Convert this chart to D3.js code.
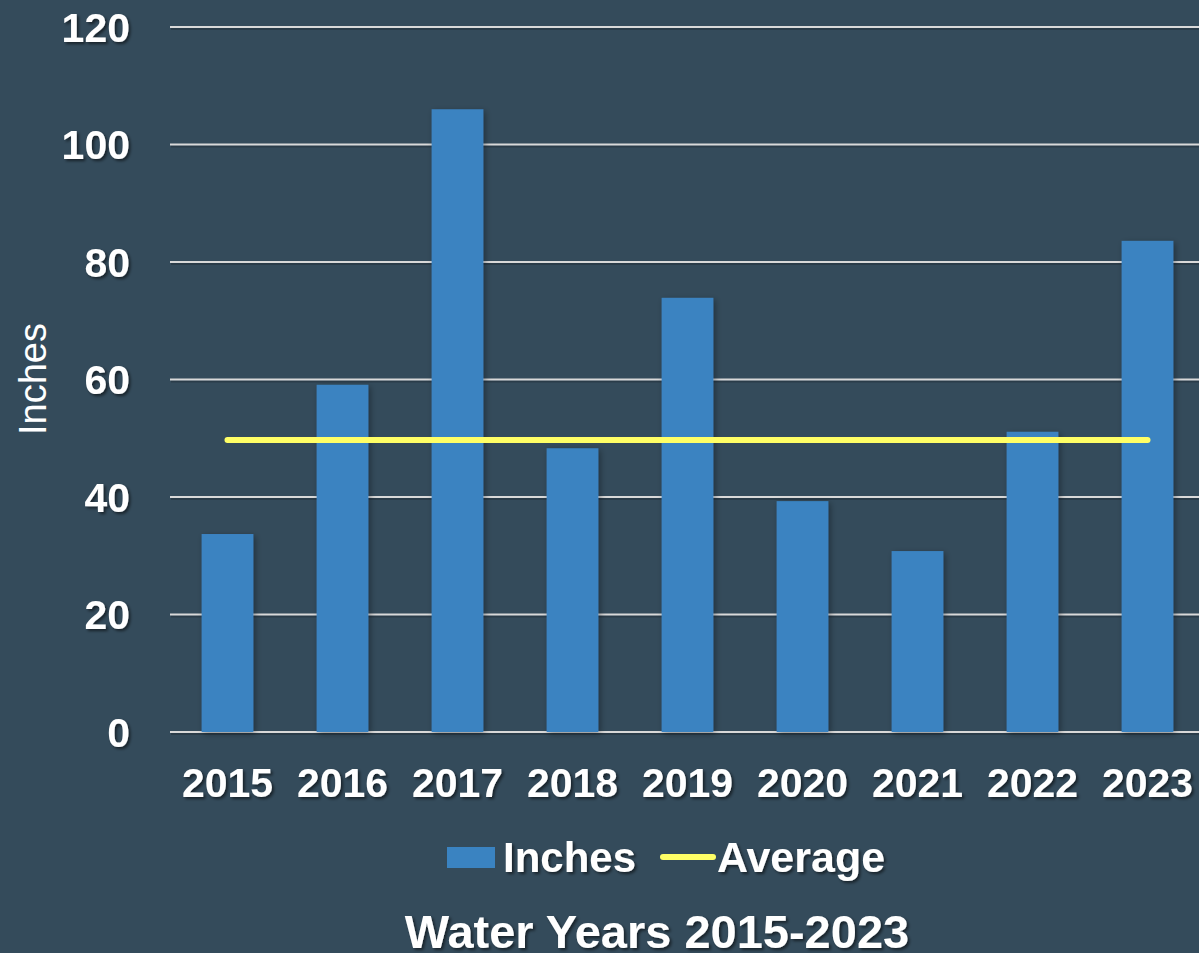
<!DOCTYPE html>
<html>
<head>
<meta charset="UTF-8">
<title>Water Years 2015-2023</title>
<script src="https://cdn.jsdelivr.net/npm/d3@7"></script>
<style>
	html, body { margin: 0; padding: 0; background: #344b5b; overflow: hidden; }
	svg text { font-family: "Liberation Sans", Arial, sans-serif; fill: #ffffff; }
</style>
</head>
<body>
<svg id="chart" width="1199" height="953"></svg>
<script>
// data
var years = ["2015", "2016", "2017", "2018", "2019", "2020", "2021", "2022", "2023"];
var inches = [33.7, 59.1, 106.0, 48.3, 73.9, 39.3, 30.8, 51.1, 83.6];
var average = [49.7, 49.7, 49.7, 49.7, 49.7, 49.7, 49.7, 49.7, 49.7];
var yTicks = [0, 20, 40, 60, 80, 100, 120];

var svg = d3.select("#chart");
var W = +svg.attr("width"), H = +svg.attr("height");

var defs = svg.append("defs");
var sh = defs.append("filter").attr("id", "shadow").attr("x", "-20%").attr("y", "-20%").attr("width", "140%").attr("height", "140%");
sh.append("feDropShadow").attr("dx", 2).attr("dy", 2).attr("stdDeviation", 1.5)
	.attr("flood-color", "#000").attr("flood-opacity", 0.55);
var bsh = defs.append("filter").attr("id", "barshadow").attr("x", "-20%").attr("y", "-5%").attr("width", "140%").attr("height", "110%");
bsh.append("feDropShadow").attr("dx", 2).attr("dy", 2).attr("stdDeviation", 3)
	.attr("flood-color", "#000").attr("flood-opacity", 0.35);

var plotL = 170, plotR = 1205, plotT = 27, plotB = 732;

var x = d3.scaleBand().domain(years).range([plotL, plotR]).paddingInner(0.55).paddingOuter(0.275);
var y = d3.scaleLinear().domain([0, 120]).range([plotB, plotT]);

// gridlines (a faint dark copy underneath stands in for the shadow)
var grid = svg.append("g");
grid.selectAll("line.gs").data(yTicks).enter().append("line")
	.attr("class", "gs")
	.attr("x1", plotL + 1).attr("x2", W)
	.attr("y1", function (d) { return y(d) + 2; })
	.attr("y2", function (d) { return y(d) + 2; })
	.attr("stroke", "#1f2d37").attr("stroke-opacity", 0.5).attr("stroke-width", 2);
grid.selectAll("line.g").data(yTicks).enter().append("line")
	.attr("class", "g")
	.attr("x1", plotL).attr("x2", W)
	.attr("y1", function (d) { return y(d); })
	.attr("y2", function (d) { return y(d); })
	.attr("stroke", "#d9d9d9").attr("stroke-width", 2);

// y tick labels
svg.append("g").selectAll("text").data(yTicks).enter().append("text")
	.attr("x", 130).attr("y", function (d) { return y(d); })
	.attr("dy", "0.36em")
	.attr("text-anchor", "end")
	.style("font-size", "41px").style("font-weight", "bold")
	.attr("filter", "url(#shadow)")
	.text(function (d) { return d; });

// bars
svg.append("g").selectAll("rect").data(inches).enter().append("rect")
	.attr("x", function (d, i) { return x(years[i]); })
	.attr("width", x.bandwidth())
	.attr("y", function (d) { return y(d); })
	.attr("height", function (d) { return y(0) - y(d); })
	.attr("fill", "#3a83c1")
	.attr("filter", "url(#barshadow)");

// average line
var line = d3.line()
	.x(function (d, i) { return x(years[i]) + x.bandwidth() / 2; })
	.y(function (d) { return y(d); });
svg.append("path").datum(average)
	.attr("d", line)
	.attr("fill", "none")
	.attr("stroke", "#ffff66").attr("stroke-width", 6)
	.attr("stroke-linecap", "round");

// x labels
svg.append("g").selectAll("text").data(years).enter().append("text")
	.attr("x", function (d) { return x(d) + x.bandwidth() / 2; })
	.attr("y", 797)
	.attr("text-anchor", "middle")
	.style("font-size", "41px").style("font-weight", "bold")
	.attr("filter", "url(#shadow)")
	.text(function (d) { return d; });

// y axis title
svg.append("text")
	.attr("transform", "translate(46,379) rotate(-90)")
	.attr("text-anchor", "middle")
	.style("font-size", "38px")
	.text("Inches");

// legend
var lg = svg.append("g");
lg.append("rect").attr("x", 447).attr("y", 847).attr("width", 48).attr("height", 21).attr("fill", "#3a83c1");
lg.append("text").attr("x", 503).attr("y", 872)
	.style("font-size", "42px").style("font-weight", "bold")
	.attr("filter", "url(#shadow)").text("Inches");
lg.append("line").attr("x1", 663).attr("x2", 713).attr("y1", 857).attr("y2", 857)
	.attr("stroke", "#ffff66").attr("stroke-width", 6).attr("stroke-linecap", "round");
lg.append("text").attr("x", 717).attr("y", 872)
	.style("font-size", "43px").style("font-weight", "bold")
	.attr("filter", "url(#shadow)").text("Average");

// title
svg.append("text")
	.attr("x", 657).attr("y", 948)
	.attr("text-anchor", "middle")
	.style("font-size", "47px").style("font-weight", "bold")
	.attr("filter", "url(#shadow)")
	.text("Water Years 2015-2023");
</script>
</body>
</html>
